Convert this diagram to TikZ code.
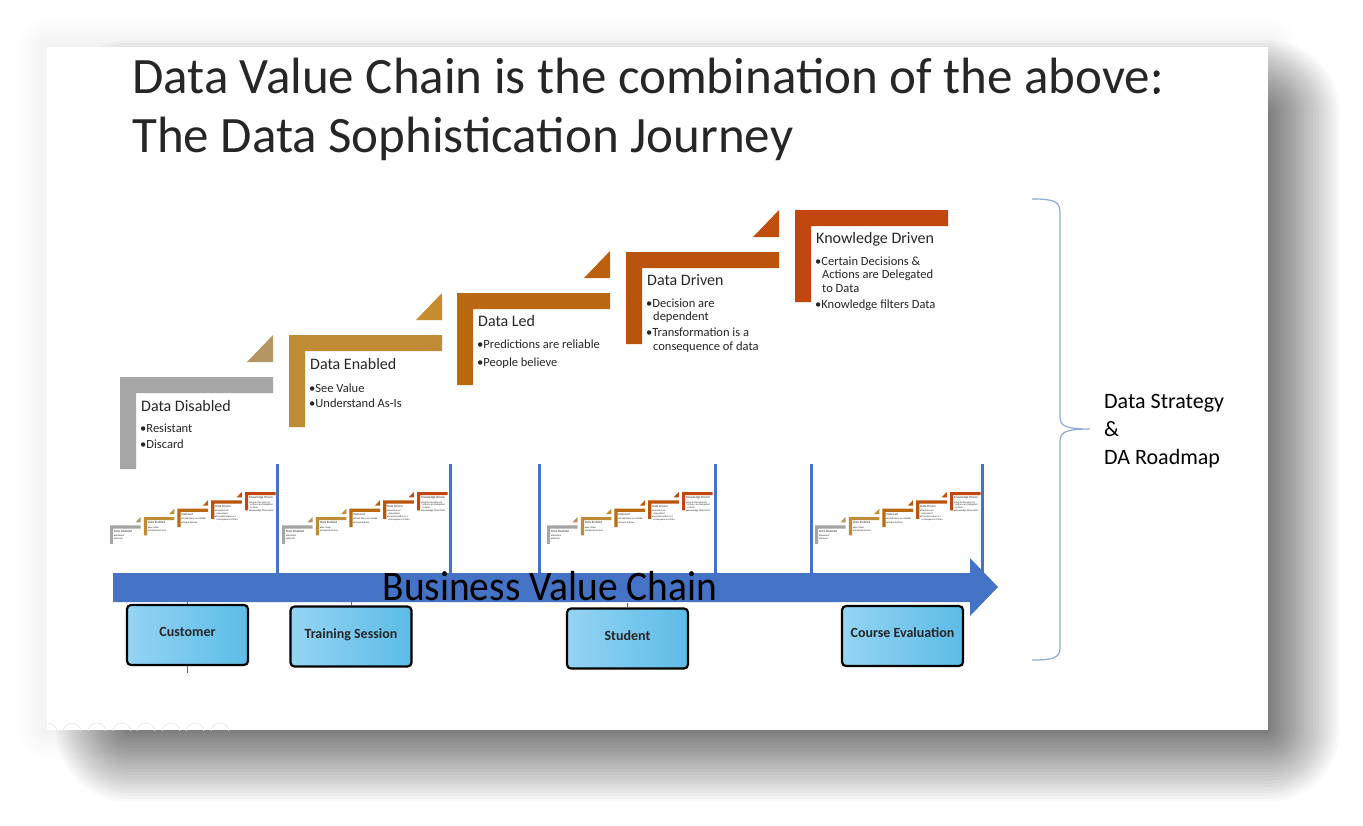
\documentclass[tikz,border=0pt]{standalone}
\usepackage{fontspec}
\setmainfont{Carlito}
\usetikzlibrary{shapes.misc}
\definecolor{c1}{HTML}{A5A5A5}
\definecolor{c2}{HTML}{BF8B34}
\definecolor{c3}{HTML}{B9690F}
\definecolor{c4}{HTML}{BA540C}
\definecolor{c5}{HTML}{C0460D}
\definecolor{t1}{HTML}{B49664}
\definecolor{t2}{HTML}{C68C2E}
\definecolor{t3}{HTML}{BA600E}
\definecolor{t4}{HTML}{BF4E0C}
\definecolor{txt}{HTML}{262626}
\definecolor{chainblue}{HTML}{4472C4}
\definecolor{bracecol}{HTML}{8EA9DB}
\definecolor{boxlight}{HTML}{95D4F3}
\definecolor{boxdark}{HTML}{5CBCE7}
\tikzset{
  steptitle/.style={anchor=base west, inner sep=0pt, font=\fontsize{16}{19}\selectfont, text=txt},
  stepitem/.style={anchor=base west, inner sep=0pt, font=\fontsize{12.5}{15}\selectfont, text=txt},
  vline/.style={draw=chainblue, line width=3pt},
  entity/.style={draw=black, line width=2.2pt, rounded corners=4pt, left color=boxlight, right color=boxdark,
    minimum width=121pt, minimum height=60pt, inner sep=0pt, font=\fontsize{14}{16}\selectfont\bfseries, text=txt},
  tick/.style={draw=black!60, line width=1pt},
  pics/staircase/.style={code={
    \foreach \x/\y/\c in {0/167/c1,169/125/c2,337/83/c3,506/42/c4,675/0/c5}{
      \fill[\c] (\x,\y) -- ++(153,0) -- ++(0,16) -- ++(-137,0) -- ++(0,76) -- ++(-16,0) -- cycle;}
    \foreach \x/\y/\c in {0/167/t1,169/125/t2,337/83/t3,506/42/t4}{
      \fill[\c] (\x+127,\y-15) -- (\x+153,\y-15) -- (\x+153,\y-42) -- cycle;}
    \node[steptitle] (-h1) at (21,201) {Data Disabled};
    \node[stepitem] (-a1) at (20,222) {•Resistant};
    \node[stepitem] (-b1) at (20,238) {•Discard};
    \node[steptitle] (-h2) at (190,159) {Data Enabled};
    \node[stepitem] (-a2) at (189,182) {•See Value};
    \node[stepitem] (-b2) at (189,197) {•Understand As-Is};
    \node[steptitle] (-h3) at (358,116) {Data Led};
    \node[stepitem] (-a3) at (357,138) {•Predictions are reliable};
    \node[stepitem] (-b3) at (357,156) {•People believe};
    \node[steptitle] (-h4) at (527,75) {Data Driven};
    \node[stepitem] (-a4) at (526,97) {•Decision are};
    \node[stepitem] (-a4b) at (533,110) {dependent};
    \node[stepitem] (-b4) at (526,126) {•Transformation is a};
    \node[stepitem] (-b4b) at (533,140) {consequence of data};
    \node[steptitle] (-h5) at (696,33) {Knowledge Driven};
    \node[stepitem] (-a5) at (695,55) {•Certain Decisions \&};
    \node[stepitem] (-a5b) at (702,68) {Actions are Delegated};
    \node[stepitem] (-a5c) at (702,82) {to Data};
    \node[stepitem] (-b5) at (695,98) {•Knowledge filters Data};
  }}
}
\begin{document}
\begin{tikzpicture}[x=1pt,y=-1pt]
\useasboundingbox (0,0) rectangle (1363,825);
\fill[white] (0,0) rectangle (1363,825);
% faint glow all around the slide
\foreach \i in {1,...,12}{
  \pgfmathsetmacro\r{2.5*\i}
  \fill[black, fill opacity=0.004, rounded corners=\r pt] (47-\r,47-\r) rectangle (1268+\r,730+\r);
}
% strong shadow to the right and bottom
\foreach \i in {0,...,24}{
  \pgfmathsetmacro\r{3*\i}
  \pgfmathsetmacro\rr{3*\i+1}
  \fill[black, fill opacity=0.024, rounded corners=\rr pt] (128-\r,112-\r) rectangle (1268+\r,730+\r);
}
% slide
\fill[white] (47,47) rectangle (1268,730);
\fill[black] (1156,75) circle (2);
\fill[black] (1156,92) circle (2);
\begin{scope}
  \clip (47,47) rectangle (1268,730);
  \foreach \x in {48,72,97,122,146,171,195,220}
    \draw[black!8, line width=0.8pt] (\x,732) circle (9);
\end{scope}
% title
\node[anchor=base west, inner sep=0pt, font=\fontsize{51}{60}\selectfont, text=txt] (title1) at (132,93) {Data Value Chain is the combination of the above:};
\node[anchor=base west, inner sep=0pt, font=\fontsize{51}{60}\selectfont, text=txt] (title2) at (132,152) {The Data Sophistication Journey};
% big staircase
\pic[transform shape] (big) at (120,210) {staircase};
% vertical separators
\foreach \x in {277,450,539,715,811,982}
  \draw[vline] (\x,464) -- (\x,574);
% mini staircases
\pic[scale=0.2, transform shape] (m1) at (110,492) {staircase};
\pic[scale=0.2, transform shape] (m2) at (282,492) {staircase};
\pic[scale=0.2, transform shape] (m3) at (547,492) {staircase};
\pic[scale=0.2, transform shape] (m4) at (815,492) {staircase};
% business value chain arrow
\fill[chainblue] (113,573) -- (970,573) -- (970,558) -- (998,587) -- (970,616) -- (970,602) -- (113,602) -- cycle;
\node[anchor=base, inner sep=0pt, font=\fontsize{42}{50}\selectfont, text=black] (bvc) at (550,600) {\scalebox{0.94}[1]{Business Value Chain}};
% entity boxes
\node[entity] (cust) at (187.5,635) {\raisebox{6pt}{Customer}};
\node[entity] (train) at (351,636.5) {\raisebox{6pt}{Training Session}};
\node[entity] (stud) at (627.5,638.5) {\raisebox{6pt}{Student}};
\node[entity] (eval) at (902.5,636) {\raisebox{6pt}{Course Evaluation}};
\coordinate (custtop) at (187.5,601);
\coordinate (custbot) at (187.5,673);
\coordinate (traintop) at (351,602);
\coordinate (studtop) at (627.5,603);
\draw[tick] (cust.north) -- (custtop);
\draw[tick] (cust.south) -- (custbot);
\draw[tick] (train.north) -- (traintop);
\draw[tick] (stud.north) -- (studtop);
% brace
\draw[bracecol, line width=1.2pt] (1032,199) .. controls (1053,199) and (1060,201) .. (1060,212) -- (1060,417)
  .. controls (1060,426) and (1066,429) .. (1090,429)
  .. controls (1066,429) and (1060,432) .. (1060,441) -- (1060,648)
  .. controls (1060,658) and (1053,660) .. (1032,660);
\node[anchor=base west, inner sep=0pt, font=\fontsize{22}{28}\selectfont, text=black] (strat) at (1104,408) {Data Strategy};
\node[anchor=base west, inner sep=0pt, font=\fontsize{22}{28}\selectfont, text=black] (amp) at (1104,436) {\&};
\node[anchor=base west, inner sep=0pt, font=\fontsize{22}{28}\selectfont, text=black] (road) at (1104,464) {DA Roadmap};
\end{tikzpicture}
\end{document}
